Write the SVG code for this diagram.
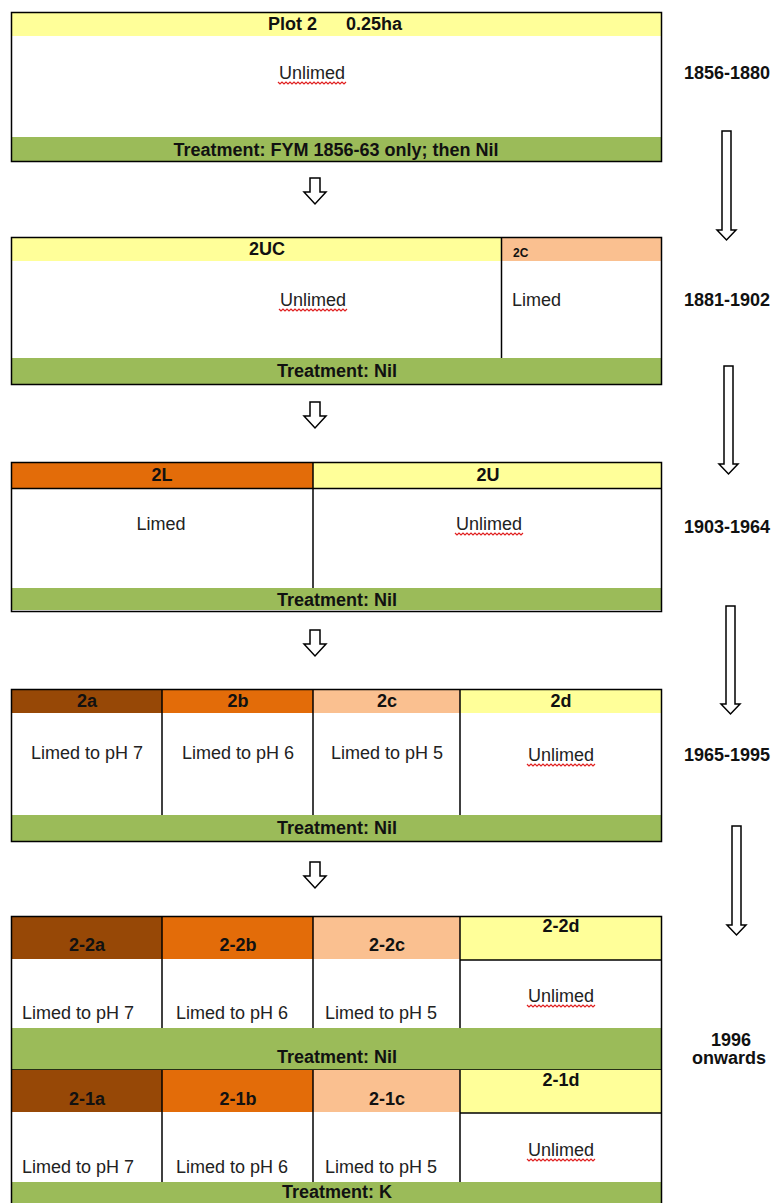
<svg xmlns="http://www.w3.org/2000/svg" width="774" height="1203" viewBox="0 0 774 1203">
<style>
.t{font-family:"Liberation Sans",Arial,sans-serif;font-size:18px;fill:#222}
.b{font-family:"Liberation Sans",Arial,sans-serif;font-size:18px;font-weight:bold;fill:#111}
.c{text-anchor:middle}
.ol{fill:none;stroke:#000;stroke-width:1.5}
.ln{stroke:#000;stroke-width:1.5}
.y{fill:#FFFF99}.g{fill:#9BBB59}.br{fill:#974806}.or{fill:#E36C09}.pe{fill:#FAC090}
.ar{fill:#fff;stroke:#000;stroke-width:1.5;stroke-linejoin:miter}
.sq{fill:none;stroke:#E02020;stroke-width:1.2}
</style>
<defs>
<path id="squig" class="sq" d="M0,0 l2,2 2,-2 2,2 2,-2 2,2 2,-2 2,2 2,-2 2,2 2,-2 2,2 2,-2 2,2 2,-2 2,2 2,-2 2,2 2,-2 2,2 2,-2 2,2 2,-2 2,2 2,-2 2,2 2,-2 2,2 2,-2 2,2 2,-2 2,2 2,-2 2,2 2,-2"/>
</defs>
<rect width="774" height="1203" fill="#fff"/>

<g id="box1">
<rect class="y" x="11" y="12" width="651" height="24"/>
<rect class="g" x="11" y="137" width="651" height="25"/>
<rect class="ol" x="11.5" y="12.5" width="650" height="149"/>
<text class="b" x="268" y="30">Plot 2</text>
<text class="b" x="346" y="30">0.25ha</text>
<text class="t c" x="312" y="79">Unlimed</text>
<use href="#squig" x="278" y="82"/>
<text class="b c" x="336" y="156">Treatment: FYM 1856-63 only; then Nil</text>
</g>

<g id="box2">
<rect class="y" x="11" y="237" width="490" height="24"/>
<rect class="pe" x="501" y="237" width="161" height="24"/>
<rect class="g" x="11" y="358" width="651" height="27"/>
<line class="ln" x1="501.5" y1="237" x2="501.5" y2="358"/>
<rect class="ol" x="11.5" y="237.5" width="650" height="147"/>
<text class="b c" x="267" y="255">2UC</text>
<text class="b" x="513" y="257" style="font-size:12px">2C</text>
<text class="t c" x="313" y="306">Unlimed</text>
<use href="#squig" x="279" y="309"/>
<text class="t" x="512" y="306">Limed</text>
<text class="b c" x="337" y="377">Treatment: Nil</text>
</g>

<g id="box3">
<rect class="or" x="11" y="462" width="302" height="26"/>
<rect class="y" x="313" y="462" width="349" height="26"/>
<rect class="g" x="11" y="588" width="651" height="22"/>
<line class="ln" x1="11" y1="488.5" x2="662" y2="488.5"/>
<line class="ln" x1="313" y1="462" x2="313" y2="588"/>
<rect class="ol" x="11.5" y="462.5" width="650" height="149"/>
<text class="b c" x="162" y="481">2L</text>
<text class="b c" x="488" y="481">2U</text>
<text class="t c" x="161" y="530">Limed</text>
<text class="t c" x="489" y="530">Unlimed</text>
<use href="#squig" x="455" y="533"/>
<text class="b c" x="337" y="606">Treatment: Nil</text>
</g>

<g id="box4">
<rect class="br" x="11" y="689" width="151" height="24"/>
<rect class="or" x="162" y="689" width="151" height="24"/>
<rect class="pe" x="313" y="689" width="147" height="24"/>
<rect class="y" x="460" y="689" width="202" height="24"/>
<rect class="g" x="11" y="815" width="651" height="27"/>
<line class="ln" x1="162" y1="689" x2="162" y2="815"/>
<line class="ln" x1="313" y1="689" x2="313" y2="815"/>
<line class="ln" x1="460" y1="689" x2="460" y2="815"/>
<rect class="ol" x="11.5" y="689.5" width="650" height="152"/>
<text class="b c" x="87" y="707">2a</text>
<text class="b c" x="238" y="707">2b</text>
<text class="b c" x="387" y="707">2c</text>
<text class="b c" x="561" y="707">2d</text>
<text class="t c" x="87" y="759">Limed to pH 7</text>
<text class="t c" x="238" y="759">Limed to pH 6</text>
<text class="t c" x="387" y="759">Limed to pH 5</text>
<text class="t c" x="561" y="761">Unlimed</text>
<use href="#squig" x="527" y="764"/>
<text class="b c" x="337" y="834">Treatment: Nil</text>
</g>

<g id="box5">
<rect class="br" x="11" y="916" width="151" height="43"/>
<rect class="or" x="162" y="916" width="151" height="43"/>
<rect class="pe" x="313" y="916" width="147" height="43"/>
<rect class="y" x="460" y="916" width="202" height="44"/>
<line class="ln" x1="460" y1="960" x2="662" y2="960"/>
<rect class="g" x="11" y="1028" width="651" height="42"/>
<line class="ln" x1="162" y1="916" x2="162" y2="1028"/>
<line class="ln" x1="313" y1="916" x2="313" y2="1028"/>
<line class="ln" x1="460" y1="916" x2="460" y2="1028"/>
<line class="ln" x1="11" y1="1070" x2="662" y2="1070"/>
<rect class="br" x="11" y="1070" width="151" height="42"/>
<rect class="or" x="162" y="1070" width="151" height="42"/>
<rect class="pe" x="313" y="1070" width="147" height="42"/>
<rect class="y" x="460" y="1070" width="202" height="43"/>
<line class="ln" x1="460" y1="1113" x2="662" y2="1113"/>
<rect class="g" x="11" y="1182" width="651" height="22"/>
<line class="ln" x1="162" y1="1070" x2="162" y2="1182"/>
<line class="ln" x1="313" y1="1070" x2="313" y2="1182"/>
<line class="ln" x1="460" y1="1070" x2="460" y2="1182"/>
<rect class="ol" x="11.5" y="916.5" width="650" height="300"/>
<text class="b c" x="87" y="951">2-2a</text>
<text class="b c" x="238" y="951">2-2b</text>
<text class="b c" x="387" y="951">2-2c</text>
<text class="b c" x="561" y="932">2-2d</text>
<text class="t" x="22" y="1019">Limed to pH 7</text>
<text class="t" x="176" y="1019">Limed to pH 6</text>
<text class="t" x="325" y="1019">Limed to pH 5</text>
<text class="t c" x="561" y="1002">Unlimed</text>
<use href="#squig" x="527" y="1005"/>
<text class="b c" x="337" y="1063">Treatment: Nil</text>
<text class="b c" x="87" y="1105">2-1a</text>
<text class="b c" x="238" y="1105">2-1b</text>
<text class="b c" x="387" y="1105">2-1c</text>
<text class="b c" x="561" y="1086">2-1d</text>
<text class="t" x="22" y="1173">Limed to pH 7</text>
<text class="t" x="176" y="1173">Limed to pH 6</text>
<text class="t" x="325" y="1173">Limed to pH 5</text>
<text class="t c" x="561" y="1156">Unlimed</text>
<use href="#squig" x="527" y="1159"/>
<text class="b c" x="337" y="1198">Treatment: K</text>
</g>

<g id="periods">
<text class="b c" x="727" y="79">1856-1880</text>
<text class="b c" x="727" y="306">1881-1902</text>
<text class="b c" x="727" y="533">1903-1964</text>
<text class="b c" x="727" y="761">1965-1995</text>
<text class="b c" x="731" y="1046">1996</text>
<text class="b c" x="729" y="1064">onwards</text>
</g>

<g id="connectors">
<path class="ar" d="M310,178 H320 V192 H326 L315,204 L304,192 H310 Z"/>
<path class="ar" d="M310,402 H320 V416 H326 L315,428 L304,416 H310 Z"/>
<path class="ar" d="M310,630 H320 V644 H326 L315,656 L304,644 H310 Z"/>
<path class="ar" d="M310,862 H320 V876 H326 L315,888 L304,876 H310 Z"/>
<path class="ar" d="M722,131 H731 V230 H736 L726.5,240 L717,230 H722 Z"/>
<path class="ar" d="M724,366 H733 V464 H738 L728.5,474 L719,464 H724 Z"/>
<path class="ar" d="M726,606 H735 V704 H740 L730.5,714 L721,704 H726 Z"/>
<path class="ar" d="M732,826 H741 V925 H746 L736.5,935 L727,925 H732 Z"/>
</g>
</svg>
